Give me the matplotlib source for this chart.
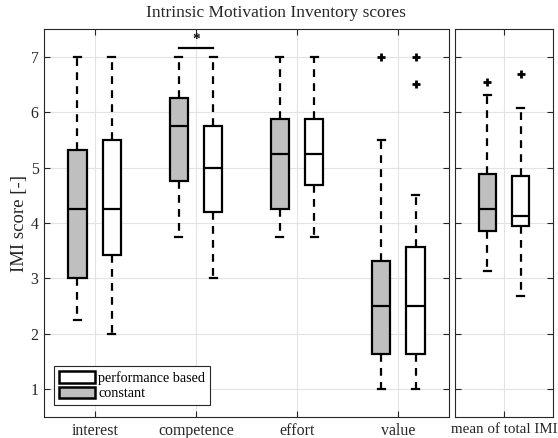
import matplotlib
matplotlib.use('Agg')
import matplotlib.pyplot as plt
from matplotlib.patches import Patch

plt.rcParams['font.family'] = ['Liberation Serif', 'DejaVu Serif']

# Data: IMI subscale scores
categories = ['interest', 'competence', 'effort', 'value']

# constant condition (grey boxes)
const_q1 = [3.0, 4.75, 4.25, 1.63]
const_med = [4.25, 5.75, 5.25, 2.5]
const_q3 = [5.32, 6.25, 5.88, 3.32]
const_lo = [2.25, 3.75, 3.75, 1.0]
const_hi = [7.0, 7.0, 7.0, 5.5]
const_out = [[], [], [], [7.0]]

# performance based condition (white boxes)
perf_q1 = [3.43, 4.19, 4.69, 1.63]
perf_med = [4.25, 5.0, 5.25, 2.5]
perf_q3 = [5.5, 5.75, 5.88, 3.57]
perf_lo = [2.0, 3.0, 3.75, 1.0]
perf_hi = [7.0, 7.0, 7.0, 4.5]
perf_out = [[], [], [], [7.0, 6.5]]

# mean of total IMI: [q1, median, q3, whisker low, whisker high]
total_label = 'mean of total IMI'
total_const = [3.86, 4.25, 4.89, 3.13, 6.31]
total_const_out = [6.55]
total_perf = [3.94, 4.13, 4.84, 2.69, 6.07]
total_perf_out = [6.69]

# significance marker between competence groups
sig_idx = 1
sig_y = 7.16

grey = '#bfbfbf'
dark = '#262626'


def make_stats(q1, med, q3, lo, hi, out):
    return [dict(q1=a, med=b, q3=c, whislo=d, whishi=e, fliers=f)
            for a, b, c, d, e, f in zip(q1, med, q3, lo, hi, out)]


def draw(ax, stats, pos, face, width):
    ax.bxp(stats, positions=pos, widths=width, capwidths=0.07,
           patch_artist=True, showfliers=True,
           boxprops=dict(facecolor=face, edgecolor='black', linewidth=1.6),
           medianprops=dict(color='black', linewidth=1.6),
           whiskerprops=dict(color='black', linewidth=1.6, linestyle=(0, (3.5, 2.8))),
           capprops=dict(color='black', linewidth=1.6),
           flierprops=dict(marker='+', markersize=6, markeredgewidth=2,
                           markeredgecolor='black'))


def style(ax):
    ax.set_ylim(0.5, 7.5)
    ax.set_xlim(0.5, len(ax.get_xticks()) + 0.5)
    ax.grid(True, color='#e3e3e3', linewidth=0.8)
    ax.set_axisbelow(True)
    ax.tick_params(direction='in', length=4, width=0.8, color=dark,
                   labelcolor=dark, labelsize=11.4, pad=4,
                   top=True, right=True)
    for sp in ax.spines.values():
        sp.set_color(dark)
        sp.set_linewidth(0.8)


fig = plt.figure(figsize=(5.58, 4.38), dpi=100)
ax1 = fig.add_axes([44 / 558, 21 / 438, 405 / 558, 388 / 438])
ax2 = fig.add_axes([455 / 558, 21 / 438, 98 / 558, 388 / 438])

x = list(range(1, len(categories) + 1))
off = 0.17
draw(ax1, make_stats(const_q1, const_med, const_q3, const_lo, const_hi, const_out),
     [p - off for p in x], grey, 0.18)
draw(ax1, make_stats(perf_q1, perf_med, perf_q3, perf_lo, perf_hi, perf_out),
     [p + off for p in x], 'white', 0.18)
ax1.set_xticks(x)
ax1.set_xticklabels(categories)
ax1.set_yticks(range(1, 8))
style(ax1)
ax1.set_ylabel('IMI score [-]', fontsize=13.5, color=dark, labelpad=2)

# significance bar
ax1.plot([x[sig_idx] - off, x[sig_idx] + off], [sig_y, sig_y], color='black', lw=1.6)
ax1.text(x[sig_idx], sig_y + 0.03, '*', ha='center', va='bottom', fontsize=11,
         fontweight='bold')

# total IMI panel
draw(ax2, make_stats([total_const[0]], [total_const[1]], [total_const[2]],
                     [total_const[3]], [total_const[4]], [total_const_out]),
     [1 - off], grey, 0.18)
draw(ax2, make_stats([total_perf[0]], [total_perf[1]], [total_perf[2]],
                     [total_perf[3]], [total_perf[4]], [total_perf_out]),
     [1 + off], 'white', 0.18)
ax2.set_xticks([1])
ax2.set_yticks(range(1, 8))
ax2.set_yticklabels([])
style(ax2)
ax2.set_xticklabels([total_label], fontsize=10.8)

handles = [Patch(facecolor='white', edgecolor='black', linewidth=1.8, label='performance based'),
           Patch(facecolor=grey, edgecolor='black', linewidth=1.8, label='constant')]
leg = ax1.legend(handles=handles, loc='lower left', bbox_to_anchor=(0.025, 0.03),
                 fontsize=10.2, fancybox=False, framealpha=1, edgecolor=dark,
                 handlelength=2.5, handleheight=0.9, handletextpad=0.25,
                 labelspacing=0.12, borderpad=0.35, borderaxespad=0)
leg.get_frame().set_linewidth(0.8)

fig.text(276 / 558, 1 - 13 / 438, 'Intrinsic Motivation Inventory scores',
         ha='center', va='center', fontsize=12.5, color=dark)

plt.savefig('out.png', dpi=100, facecolor='white')
plt.close()
